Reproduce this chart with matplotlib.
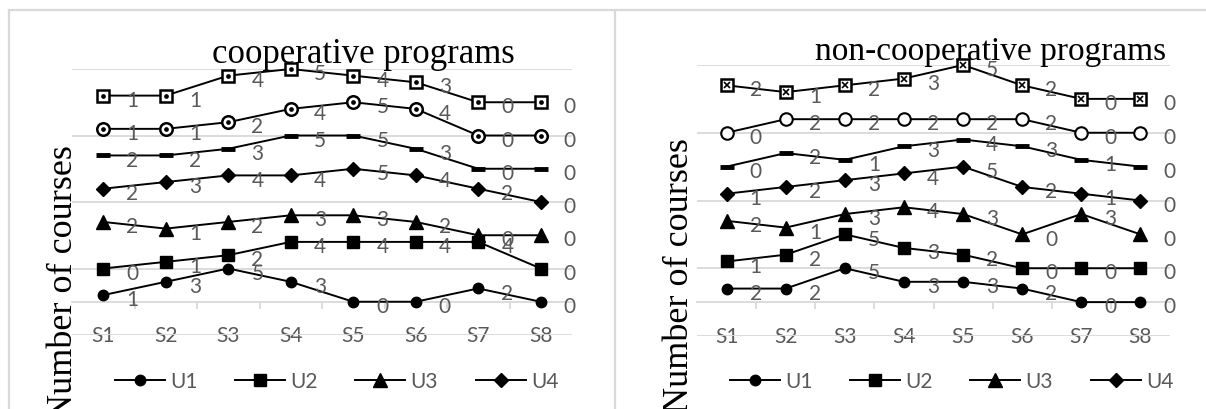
import matplotlib
matplotlib.use('Agg')
import matplotlib.pyplot as plt
from matplotlib.lines import Line2D
import numpy as np

# ---------------- data ----------------
stages = ['S1', 'S2', 'S3', 'S4', 'S5', 'S6', 'S7', 'S8']
units = ['U1', 'U2', 'U3', 'U4', 'U5', 'U6', 'U7']
legend_units = ['U1', 'U2', 'U3', 'U4']  # the row visible in the picture

coop_U1 = [1, 3, 5, 3, 0, 0, 2, 0]
coop_U2 = [0, 1, 2, 4, 4, 4, 4, 0]
coop_U3 = [2, 1, 2, 3, 3, 2, 0, 0]
coop_U4 = [2, 3, 4, 4, 5, 4, 2, 0]
coop_U5 = [2, 2, 3, 5, 5, 3, 0, 0]
coop_U6 = [1, 1, 2, 4, 5, 4, 0, 0]
coop_U7 = [1, 1, 4, 5, 4, 3, 0, 0]

noncoop_U1 = [2, 2, 5, 3, 3, 2, 0, 0]
noncoop_U2 = [1, 2, 5, 3, 2, 0, 0, 0]
noncoop_U3 = [2, 1, 3, 4, 3, 0, 3, 0]
noncoop_U4 = [1, 2, 3, 4, 5, 2, 1, 0]
noncoop_U5 = [0, 2, 1, 3, 4, 3, 1, 0]
noncoop_U6 = [0, 2, 2, 2, 2, 2, 0, 0]
noncoop_U7 = [2, 1, 2, 3, 5, 2, 0, 0]

coop_series = [coop_U1, coop_U2, coop_U3, coop_U4, coop_U5, coop_U6, coop_U7]
noncoop_series = [noncoop_U1, noncoop_U2, noncoop_U3, noncoop_U4,
                  noncoop_U5, noncoop_U6, noncoop_U7]

STEP = 5  # vertical offset between stacked series

# ---------------- style ----------------
plt.rcParams['font.family'] = ['Lato', 'DejaVu Sans']
GRAY_TXT = '#595959'
GRID = '#d9d9d9'
SERIF = ['Liberation Serif', 'DejaVu Serif']
FS = 15

base_styles = [
    dict(marker='o', ms=7.5, mfc='black', mew=1.0),
    dict(marker='s', ms=9, mfc='black', mew=1.0),
    dict(marker='^', ms=9.5, mfc='black', mew=1.0),
    dict(marker='D', ms=7, mfc='black', mew=1.0),
    dict(marker='_', ms=10, mfc='black', mew=3.5),
]
coop_styles = base_styles + [
    dict(marker='o', ms=9, mfc='white', mew=1.8, inner='o', inner_ms=2.2),
    dict(marker='s', ms=9, mfc='white', mew=1.8, inner='o', inner_ms=2.2),
]
noncoop_styles = base_styles + [
    dict(marker='o', ms=9, mfc='white', mew=1.5),
    dict(marker='s', ms=9, mfc='white', mew=1.8, inner='x', inner_ms=4.5),
]

W, H = 1206, 410
fig = plt.figure(figsize=(W / 100, H / 100), dpi=100)


def px_rect(x0, x1, ytop, ybot):
    return [x0 / W, 1 - ybot / H, (x1 - x0) / W, (ybot - ytop) / H]


def draw(ax, series, styles, title, title_fs, title_x, title_y, leg_x, leg_ytop):
    x = np.arange(len(stages))
    handles = {}
    for k, (name, vals) in enumerate(zip(units, series)):
        st = styles[k]
        y = np.asarray(vals) + STEP * k
        h, = ax.plot(x, y, color='black', lw=1.4, marker=st['marker'],
                     ms=st['ms'], mfc=st['mfc'], mec='black', mew=st['mew'],
                     zorder=3, label=name, clip_on=False)
        handles[name] = h
        if 'inner' in st:
            ax.plot(x, y, ls='none', marker=st['inner'], ms=st['inner_ms'],
                    color='black', mew=1.2, zorder=4, clip_on=False)
        for xi, yi, v in zip(x, y, vals):
            ax.annotate(str(v), (xi, yi), xytext=(21, -3),
                        textcoords='offset points', ha='center', va='center',
                        fontsize=FS, color=GRAY_TXT, zorder=5)

    ax.set_xlim(-0.5, len(stages) - 0.5)
    ax.set_ylim(-STEP, STEP * 7)
    ax.set_yticks(np.arange(-STEP, STEP * 7 + 1, 2 * STEP))
    ax.tick_params(axis='y', length=0, labelleft=False)
    ax.grid(axis='y', color=GRID, lw=1.3)
    ax.set_axisbelow(True)
    for s in ['top', 'right', 'left']:
        ax.spines[s].set_visible(False)
    ax.spines['bottom'].set_position(('data', 0))
    ax.spines['bottom'].set_color(GRID)
    ax.spines['bottom'].set_linewidth(1.3)
    ax.set_xticks(x, stages)
    ax.set_xticks(np.arange(0.5, len(stages) - 1, 1), minor=True)
    ax.tick_params(axis='x', which='major', length=0, pad=17,
                   labelsize=FS, labelcolor=GRAY_TXT)
    ax.tick_params(axis='x', which='minor', length=5, width=1.3,
                   color=GRID, direction='out')

    ax.set_title(title, fontsize=title_fs, family=SERIF, x=title_x,
                 y=title_y, pad=0)

    ax.legend([handles[u] for u in legend_units], legend_units,
              ncol=4, loc='upper left',
              bbox_to_anchor=(leg_x / W, 1 - leg_ytop / H),
              bbox_transform=fig.transFigure, frameon=False,
              handlelength=2.4, handletextpad=0.25, columnspacing=1.8,
              borderpad=0, borderaxespad=0, fontsize=FS, labelcolor=GRAY_TXT)


ax1 = fig.add_axes(px_rect(72, 572, 70, 336))
draw(ax1, coop_series, coop_styles, 'cooperative programs', 25,
     0.582, 1.026, 115, 372)
ax2 = fig.add_axes(px_rect(697, 1170, 66, 337))
draw(ax2, noncoop_series, noncoop_styles, 'non-cooperative programs', 24,
     0.62, 1.022, 730, 372)

fig.text(63 / W, 1 - 283 / H, 'Number of courses', rotation=90,
         ha='center', va='center', fontsize=26, family=SERIF)
fig.text(679 / W, 1 - 276 / H, 'Number of courses', rotation=90,
         ha='center', va='center', fontsize=26, family=SERIF)

# panel borders
for xs, ys in [([9, 9], [11, H]), ([615, 615], [11, H]), ([9, W], [11, 11])]:
    fig.add_artist(Line2D([v / W for v in xs], [1 - v / H for v in ys],
                          transform=fig.transFigure, color=GRID, lw=1.6))

fig.savefig('out.png', dpi=100)
